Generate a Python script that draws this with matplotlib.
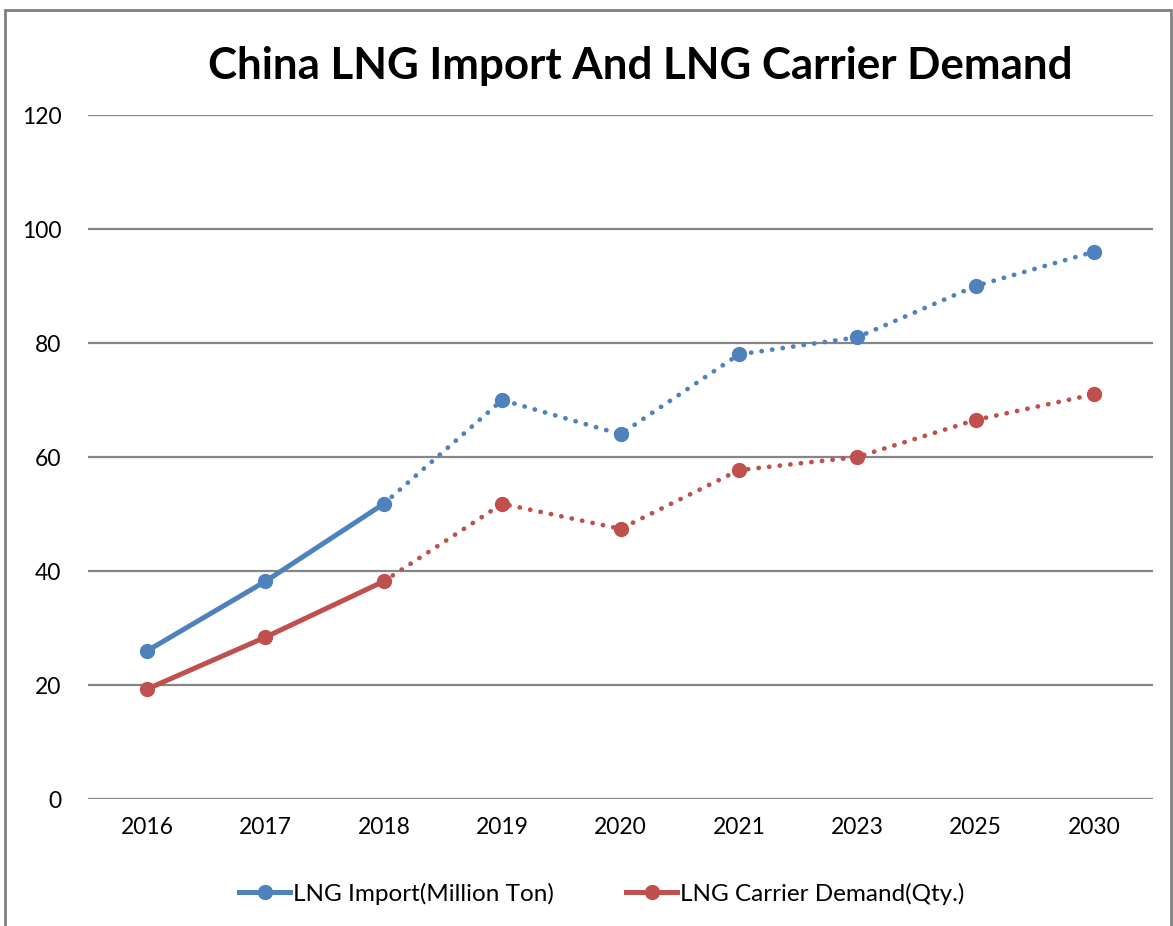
import matplotlib
matplotlib.use('Agg')
import matplotlib.pyplot as plt
from matplotlib.lines import Line2D
from matplotlib.patches import Rectangle

years = ['2016', '2017', '2018', '2019', '2020', '2021', '2023', '2025', '2030']
lng_import = [26, 38.2, 51.8, 70, 64, 78, 81, 90, 96]
carrier_demand = [19.3, 28.4, 38.2, 51.8, 47.4, 57.7, 60, 66.5, 71]
split = 2  # last actual point, after that it's forecast (dotted)

BLUE = '#4F81BD'
RED = '#C0504D'
GRID = '#868686'

plt.rcParams['font.family'] = ['Lato', 'DejaVu Sans']

fig = plt.figure(figsize=(11.73, 9.26), dpi=100)
ax = fig.add_axes([0.075, 0.1371, 0.908, 0.7387])

x = list(range(len(years)))
for vals, col in [(lng_import, BLUE), (carrier_demand, RED)]:
    ax.plot(x[:split + 1], vals[:split + 1], color=col, lw=3.6, solid_capstyle='round', zorder=3)
    ax.plot(x[split:], vals[split:], color=col, lw=3.4, linestyle=(0, (0.05, 2.2)),
            dash_capstyle='round', zorder=3)
    ax.plot(x, vals, linestyle='none', marker='o', ms=10, color=col, zorder=4)

ax.set_xlim(-0.5, len(years) - 0.5)
ax.set_ylim(0, 120)
ax.set_yticks(range(0, 121, 20))
ax.set_xticks(x)
ax.set_xticklabels(years)
ax.yaxis.grid(True, color=GRID, lw=1.6)
ax.set_axisbelow(True)
for s in ax.spines.values():
    s.set_visible(False)
ax.tick_params(length=0, labelsize=16.5, colors='#000000')
ax.tick_params(axis='y', pad=19)
ax.tick_params(axis='x', pad=13)

fig.text(0.5456, 0.929, 'China LNG Import And LNG Carrier Demand', ha='center', va='center',
         fontsize=31.6, fontweight='bold')

handles = [Line2D([0], [0], color=BLUE, lw=3.6, marker='o', ms=10),
           Line2D([0], [0], color=RED, lw=3.6, marker='o', ms=10)]
fig.legend(handles, ['LNG Import(Million Ton)', 'LNG Carrier Demand(Qty.)'],
           loc='center', bbox_to_anchor=(0.513, 0.035), ncol=2, frameon=False,
           fontsize=17.5, handlelength=2.1, handletextpad=0.1, columnspacing=3.0)

fig.patches.append(Rectangle((0.004, -0.01), 0.994, 0.999, transform=fig.transFigure,
                             fill=False, edgecolor='#808080', lw=2))

fig.savefig('out.png', dpi=100)
